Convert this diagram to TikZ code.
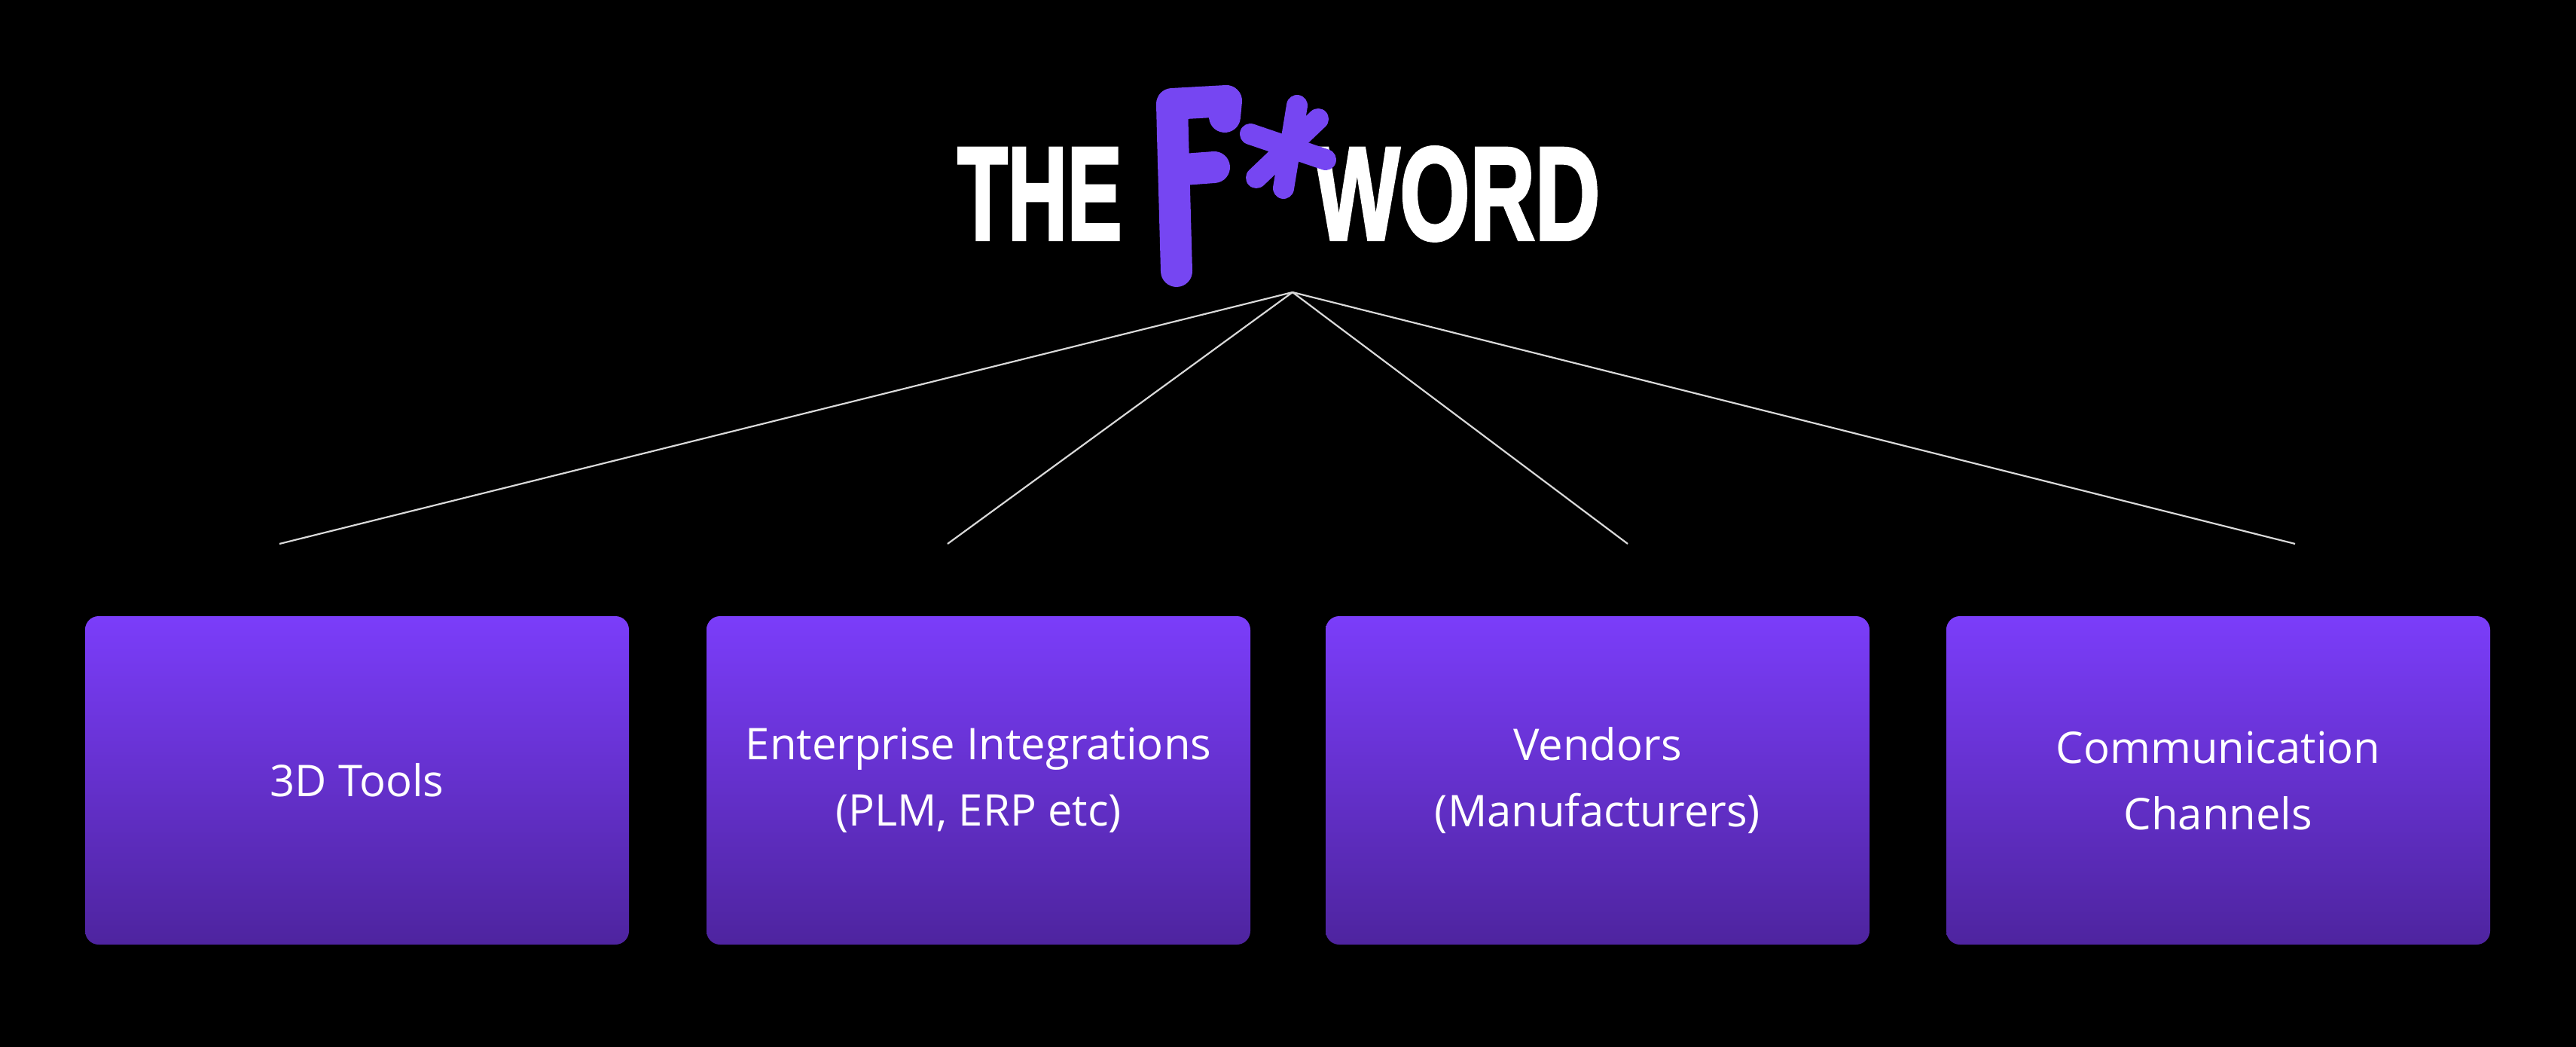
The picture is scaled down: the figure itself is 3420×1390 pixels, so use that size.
\documentclass[tikz,border=0pt]{standalone}
\usepackage{fontspec}
\setmainfont{Open Sans}
\newfontfamily\titlefont[FakeBold=2.5]{Liberation Sans Bold}
\definecolor{boxtop}{HTML}{7B3DFA}
\definecolor{boxbot}{HTML}{4E249F}
\definecolor{fpurple}{HTML}{7646F2}
\tikzset{
  catbox/.style={rounded corners=9pt, minimum width=361pt, minimum height=218pt, top color=boxtop, bottom color=boxbot, draw=none, text=white, align=center, font=\fontsize{29}{44}\selectfont, inner sep=0pt},
  link/.style={draw=white!85!black, line width=1.1pt},
  fstroke/.style={draw=fpurple, line width=21pt, line cap=round, line join=round},
  astroke/.style={draw=fpurple, line width=14pt, line cap=round},
}
\begin{document}
\begin{tikzpicture}[x=0.5pt,y=-0.5pt]
\fill[black] (0,0) rectangle (3420,1390);
\useasboundingbox (0,0) rectangle (3420,1390);
% title
\node[anchor=base east, text=white, inner sep=0pt] (the) at (1490,318) {\titlefont\fontsize{88}{88}\selectfont\scalebox{0.62}[1]{THE}};
\node[anchor=base west, text=white, inner sep=0pt] (word) at (1745,318) {\titlefont\fontsize{88}{88}\selectfont\scalebox{0.68}[1]{WORD}};
\draw[fstroke] (1562,360) -- (1557,180) -- (1556,138) -- (1628,134) -- (1626,155);
\draw[fstroke] (1559,226) -- (1612,222);
\draw[astroke] (1722,140) -- (1704,250);
\draw[astroke] (1660,178) -- (1760,212);
\draw[astroke] (1750,158) -- (1668,236);
\coordinate (apex) at (1716,388);
% boxes
\node[catbox] (b1) at (474,1036) {3D Tools};
\node[catbox] (b2) at (1299,1036) {Enterprise Integrations\\(PLM, ERP etc)};
\node[catbox] (b3) at (2121,1036) {Vendors\\(Manufacturers)};
\node[catbox] (b4) at (2945,1036) {Communication\\Channels};
% line ends
\coordinate (e1) at (371,722);
\coordinate (e2) at (1258,722);
\coordinate (e3) at (2161,722);
\coordinate (e4) at (3047,722);
\foreach \e in {e1,e2,e3,e4} \draw[link] (apex) -- (\e);
\end{tikzpicture}
\end{document}
